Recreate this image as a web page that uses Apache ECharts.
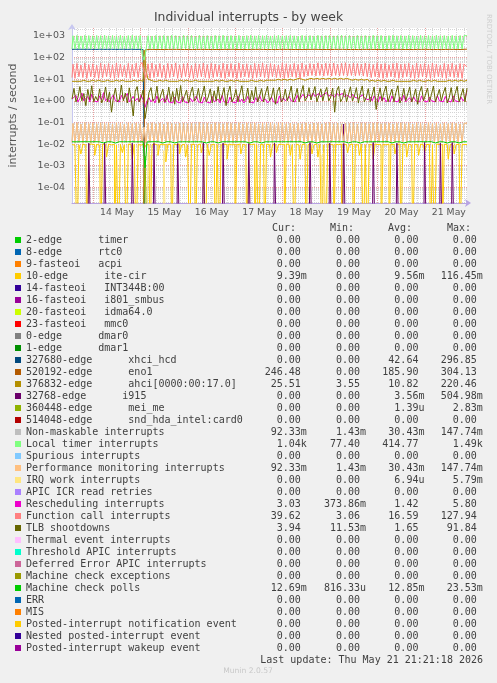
<!DOCTYPE html>
<html><head><meta charset="utf-8">
<script src="https://cdn.jsdelivr.net/npm/echarts@6/dist/echarts.min.js"></script>
<style>html,body{margin:0;padding:0;background:#f0f0f0;}#c{width:497px;height:683px;}</style>
</head><body><div id="c"></div><script>
// ---- time base: one sample per hour, 200 hours ending Thu May 21 21:21:18 ----
const startDay = 13 + (13 + 21/60 + 18/3600) / 24;
const endDay = startDay + 200 / 24;
const dayTicks = [14, 15, 16, 17, 18, 19, 20, 21];
const dayLabels = ['14 May', '15 May', '16 May', '17 May', '18 May', '19 May', '20 May', '21 May'];
const yTickValues = [1e-4, 1e-3, 1e-2, 1e-1, 1, 10, 100, 1000];
const yTickLabels = ['1e-04', '1e-03', '1e-02', '1e-01', '1e+00', '1e+01', '1e+02', '1e+03'];

// ---- series names, colours and legend statistics ----
const names = [
 '2-edge      timer','8-edge      rtc0','9-fasteoi   acpi','10-edge      ite-cir','14-fasteoi   INT344B:00',
 '16-fasteoi   i801_smbus','20-fasteoi   idma64.0','23-fasteoi   mmc0','0-edge      dmar0','1-edge      dmar1',
 '327680-edge      xhci_hcd','520192-edge      eno1','376832-edge      ahci[0000:00:17.0]','32768-edge      i915',
 '360448-edge      mei_me','514048-edge      snd_hda_intel:card0','Non-maskable interrupts','Local timer interrupts',
 'Spurious interrupts','Performance monitoring interrupts','IRQ work interrupts','APIC ICR read retries',
 'Rescheduling interrupts','Function call interrupts','TLB shootdowns','Thermal event interrupts',
 'Threshold APIC interrupts','Deferred Error APIC interrupts','Machine check exceptions','Machine check polls',
 'ERR','MIS','Posted-interrupt notification event','Nested posted-interrupt event','Posted-interrupt wakeup event'];
const colors = ['#00CC00','#0066B3','#FF8000','#FFCC00','#330099','#990099','#CCFF00','#FF0000','#808080','#008F00',
 '#00487D','#B35A00','#B38F00','#6B006B','#8FB300','#B30000','#BEBEBE','#80FF80','#80C9FF','#FFC080',
 '#FFE680','#AA80FF','#EE00CC','#FF8080','#666600','#FFBFFF','#00FFCC','#CC6699','#999900','#00CC00',
 '#0066B3','#FF8000','#FFCC00','#330099','#990099'];
const curStats = ['0.00','0.00','0.00','9.39m','0.00','0.00','0.00','0.00','0.00','0.00','0.00','246.48','25.51','0.00','0.00','0.00','92.33m','1.04k','0.00','92.33m','0.00','0.00','3.03','39.62','3.94','0.00','0.00','0.00','0.00','12.69m','0.00','0.00','0.00','0.00','0.00'];
const minStats = ['0.00','0.00','0.00','0.00','0.00','0.00','0.00','0.00','0.00','0.00','0.00','0.00','3.55','0.00','0.00','0.00','1.43m','77.40','0.00','1.43m','0.00','0.00','373.86m','3.06','11.53m','0.00','0.00','0.00','0.00','816.33u','0.00','0.00','0.00','0.00','0.00'];
const avgStats = ['0.00','0.00','0.00','9.56m','0.00','0.00','0.00','0.00','0.00','0.00','42.64','185.90','10.82','3.56m','1.39u','0.00','30.43m','414.77','0.00','30.43m','6.94u','0.00','1.42','16.59','1.65','0.00','0.00','0.00','0.00','12.85m','0.00','0.00','0.00','0.00','0.00'];
const maxStats = ['0.00','0.00','0.00','116.45m','0.00','0.00','0.00','0.00','0.00','0.00','296.85','304.13','220.46','504.98m','2.83m','0.00','147.74m','1.49k','0.00','147.74m','5.79m','0.00','5.80','127.94','91.84','0.00','0.00','0.00','0.00','23.53m','0.00','0.00','0.00','0.00','0.00'];

// ---- values, one per hour (index 0..200) ----
const iteCir = [
 .0095,.0090,.0100,0,.0092,.0035,.0098,.0090,0,.0095,
 .0100,.0092,.0030,.0096,.0090,0,.0098,.0094,.0025,.0100,
 .0092,.0096,0,.0090,0,.0098,.0040,.0094,0,.0100,
 .0093,.0020,.0097,0,.0095,.0090,.0100,.0060,.0092,.0096,
 0,.0094,.0099,.0091,.0030,.0097,.0093,.0095,.0015,.0100,
 .0092,0,.0096,.0094,.0099,.0035,.0091,.0097,.0025,.0093,
 0,.0098,.0095,0,.0092,.0100,.0040,.0094,0,.0097,
 .0030,.0093,.0099,0,.0095,0,.0091,.0098,.0094,.0020,
 .0100,.0092,.0096,0,.0093,.0099,.0035,.0095,.0091,0,
 .0097,.0094,.0100,0,.0092,0,.0096,.0093,0,.0098,
 .0095,.0025,.0091,.0099,.0040,.0094,.0097,.0092,0,.0100,
 .0093,.0030,.0096,0,.0098,.0091,.0020,.0095,.0099,0,
 .0094,.0097,.0035,.0092,.0100,.0025,.0096,0,.0093,0,
 .0098,.0095,.0091,0,.0097,.0094,.0100,0,.0092,.0096,
 .0040,.0093,.0099,0,.0095,.0091,.0030,.0098,0,.0094,
 0,.0097,.0092,.0020,.0100,.0095,.0093,0,.0096,.0091,
 .0099,0,.0094,.0097,.0035,.0092,.0100,0,.0095,.0093,
 .0025,.0098,.0091,0,.0096,.0094,.0030,.0099,.0092,.0040,
 .0095,.0097,0,.0093,0,.0100,.0096,.0092,0,.0098,
 .0094,.0020,.0097,.0091,.0035,.0095,.0099,0,.0093,.0096,
 .0094];
const xhciHcd = [
 243,241,244,242,245,240,243,242,244,241,
 242,244,240,243,245,241,242,244,243,240,
 244,242,241,245,243,240,244,242,241,243,
 245,242,240,244,243,241,235,0,0,0,
 0,0,0,0,0,0,0,0,0,0, 0,0,0,0,0,0,0,0,0,0,
 0,0,0,0,0,0,0,0,0,0, 0,0,0,0,0,0,0,0,0,0,
 0,0,0,0,0,0,0,0,0,0, 0,0,0,0,0,0,0,0,0,0,
 0,0,0,0,0,0,0,0,0,0, 0,0,0,0,0,0,0,0,0,0,
 0,0,0,0,0,0,0,0,0,0, 0,0,0,0,0,0,0,0,0,0,
 0,0,0,0,0,0,0,0,0,0, 0,0,0,0,0,0,0,0,0,0,
 0,0,0,0,0,0,0,0,0,0, 0,0,0,0,0,0,0,0,0,0,
 0,0,0,0,0,0,0,0,0,0, 0,0,0,0,0,0,0,0,0,0,
 0];
const eno1 = [
 0,0,0,0,0,0,0,0,0,0,
 0,0,0,0,0,0,0,0,0,0,
 0,0,0,0,0,0,0,0,0,0,
 0,0,0,0,0,0,0,228,240,238,
 236,241,239,237,242,238,240,236,239,241,
 237,240,238,242,236,239,241,237,240,238,
 242,236,239,240,237,241,238,240,236,239,
 241,237,240,238,242,236,239,241,237,240,
 238,242,236,239,240,237,241,238,240,236,
 239,241,237,240,238,242,236,239,241,237,
 240,238,242,236,239,240,237,241,238,240,
 236,239,241,237,240,238,242,236,239,241,
 237,240,238,242,236,239,240,237,241,238,
 240,236,239,241,237,240,238,242,236,239,
 241,237,240,238,242,236,239,240,237,241,
 238,240,236,239,241,237,240,238,242,236,
 239,241,237,240,238,242,236,239,240,237,
 241,238,240,236,239,241,237,240,238,242,
 236,239,241,237,240,238,242,236,239,240,
 237,241,238,240,236,239,241,237,240,244,
 246];
const ahci = [
 8,8,9,8,8,9,9,8,8,8,
 9,8,8,9,8,8,8,9,9,8,
 8,8,9,8,8,9,8,8,8,9,
 8,9,8,8,9,8,8,220,25,10,
 9,8,8,8,9,8,8,9,8,8,
 8,9,8,8,8,9,8,8,9,8,
 8,8,9,8,8,8,9,8,8,9,
 8,8,8,9,8,8,9,8,8,8,
 9,8,8,9,8,8,8,9,8,8,
 8,9,8,8,8,9,8,8,9,8,
 9,9,10,9,10,10,9,10,10,9,
 10,10,9,10,10,11,10,10,9,10,
 10,11,10,10,11,10,10,11,10,10,
 11,10,10,11,10,10,11,10,10,11,
 10,10,9,10,10,9,10,9,9,10,
 9,8,9,8,8,9,8,8,9,8,
 8,8,9,8,8,8,9,8,8,9,
 8,8,8,9,8,8,9,8,8,8,
 9,8,8,9,8,8,8,9,8,8,
 8,9,8,8,9,8,8,9,8,9,
 9];
const localTimer = [
 250,1030,248,1070,251,1010,249,1085,250,1050,
 248,1020,251,1065,250,1040,249,1090,250,1025,
 251,1060,248,1035,250,1075,249,1015,251,1050,
 250,1085,248,1030,251,1060,150,77,235,1040,
 246,1005,250,1075,248,1030,251,1060,249,1020,
 250,1085,248,1045,251,1010,249,1070,250,1035,
 248,1060,251,1000,250,1080,249,1025,250,1055,
 251,1015,248,1070,250,1040,249,1090,251,1020,
 250,1060,248,1030,251,1075,249,1005,250,1050,
 248,1085,251,1025,250,1060,249,1035,251,1070,
 250,1010,248,1055,251,1080,249,1020,250,1045,
 248,1065,251,1030,250,1000,249,1075,251,1040,
 250,1060,248,1015,251,1085,249,1030,250,1050,
 248,1070,251,1020,250,1045,249,1090,251,1035,
 250,1060,248,1005,251,1075,249,1030,250,1055,
 251,1020,248,1080,250,1040,249,1065,251,1010,
 250,1050,248,1085,251,1030,249,1060,250,1020,
 248,1075,251,1045,250,1005,249,1070,251,1035,
 250,1060,248,1025,251,1090,249,1040,250,1055,
 251,1015,248,1070,250,1030,249,1060,251,1045,
 1040];
const perfMon = [
 .012,.090,.011,.095,.012,.085,.011,.098,.012,.088,
 .011,.093,.012,.087,.011,.096,.012,.090,.011,.094,
 .012,.086,.011,.097,.012,.091,.011,.084,.012,.095,
 .011,.089,.012,.093,.011,.087,.012,.060,.011,.092,
 .012,.096,.011,.088,.012,.094,.011,.085,.012,.097,
 .011,.090,.012,.086,.011,.095,.012,.091,.011,.088,
 .012,.094,.011,.087,.012,.098,.011,.089,.012,.093,
 .011,.085,.012,.096,.011,.090,.012,.087,.011,.095,
 .012,.091,.011,.088,.012,.097,.011,.086,.012,.094,
 .011,.089,.012,.095,.011,.085,.012,.092,.011,.090,
 .012,.096,.011,.087,.012,.093,.011,.098,.012,.088,
 .011,.094,.012,.086,.011,.091,.012,.089,.011,.097,
 .012,.085,.011,.095,.012,.090,.011,.087,.012,.093,
 .011,.098,.012,.088,.011,.094,.012,.086,.011,.091,
 .012,.089,.011,.096,.012,.085,.011,.092,.012,.095,
 .011,.087,.012,.093,.011,.097,.012,.088,.011,.090,
 .012,.094,.011,.086,.012,.091,.011,.096,.012,.089,
 .011,.092,.012,.085,.011,.095,.012,.090,.011,.087,
 .012,.097,.011,.089,.012,.093,.011,.086,.012,.094,
 .011,.088,.012,.096,.011,.091,.012,.085,.011,.092,
 .092];
const rescheduling = [
 1.2,1.0,1.8,0.9,1.3,2.3,1.0,1.1,1.6,0.9,
 2.0,1.0,1.2,0.9,1.7,1.1,2.4,1.0,1.3,0.9,
 1.4,1.9,1.0,1.1,0.9,1.8,1.2,1.0,2.2,0.9,
 1.1,1.6,1.0,1.3,0.9,1.9,1.1,0.5,1.0,1.4,
 0.9,1.2,0.8,1.7,0.9,1.0,1.3,0.8,1.8,0.9,
 1.0,0.8,1.5,0.9,1.1,0.8,1.6,0.9,1.0,0.8,
 1.3,0.9,0.8,1.7,0.9,1.1,0.8,1.5,0.9,1.0,
 0.8,1.6,0.9,1.0,1.2,0.8,1.8,0.9,1.1,0.8,
 1.5,0.9,1.0,0.8,1.7,0.9,1.2,0.8,1.0,1.6,
 0.9,1.1,0.8,1.4,0.9,1.8,1.0,0.9,1.2,0.8,
 1.0,1.5,0.9,1.1,0.8,1.7,0.9,1.4,1.0,0.9,
 1.6,1.0,1.2,0.9,1.8,1.1,1.5,2.0,1.4,1.7,
 1.9,1.5,2.3,1.6,1.8,2.2,1.5,1.9,1.7,2.4,
 1.6,2.0,1.7,1.5,2.3,1.8,1.6,2.2,1.5,1.9,
 1.7,1.4,2.0,1.5,1.8,1.3,1.6,1.9,1.4,1.7,
 1.1,1.5,1.0,1.7,1.2,0.9,1.6,1.0,1.4,0.9,
 1.2,0.9,1.7,1.0,1.1,0.9,1.5,1.0,1.8,0.9,
 1.0,1.4,0.9,1.6,1.0,1.1,0.9,1.7,1.0,1.2,
 0.9,1.5,1.0,1.1,0.9,1.8,1.0,1.2,0.9,1.6,
 1.0,1.1,0.9,1.7,1.0,1.2,0.9,1.5,1.0,1.3,
 3.0];
const functionCall = [
 12,50,11,54,13,46,12,56,11,48,
 13,52,12,45,11,55,12,49,13,53,
 12,47,11,57,12,51,13,44,12,54,
 11,49,13,55,12,46,60,20,12,52,
 11,56,12,48,13,53,12,45,11,54,
 12,50,13,57,11,47,12,52,13,55,
 12,44,11,53,12,49,13,56,12,48,
 11,54,12,51,13,46,12,55,11,50,
 13,53,12,47,11,56,12,49,13,52,
 12,45,11,54,12,51,13,57,12,48,
 11,53,13,50,12,46,12,55,11,52,
 12,48,13,54,12,49,11,56,13,47,
 14,53,15,51,14,57,15,50,14,55,
 15,52,14,56,15,49,14,54,15,58,
 14,51,15,55,14,53,15,50,14,56,
 13,52,12,48,13,55,12,51,11,54,
 12,47,13,53,12,56,11,49,12,52,
 13,54,12,46,11,55,12,50,13,53,
 12,48,11,56,12,51,13,45,12,54,
 11,50,13,55,12,47,12,53,11,51,
 40];
const tlb = [
 1.2,3.8,0.9,1.4,4.6,1.0,2.2,0.6,3.4,1.1,
 5.0,0.9,1.6,1.0,3.6,0.8,1.3,4.4,0.9,2.6,
 0.3,1.5,3.9,0.9,1.2,5.4,1.0,2.3,0.8,4.0,
 1.1,0.2,2.8,4.6,0.9,1.4,3.2,0.15,0.6,2.4,
 4.1,1.0,1.3,4.8,0.8,1.9,3.5,0.9,1.2,4.3,
 0.9,2.7,0.7,3.9,1.0,5.1,0.9,1.6,3.2,0.8,
 2.2,4.4,1.0,1.3,3.8,0.9,2.0,4.9,0.9,1.5,
 3.6,0.8,2.9,1.0,4.6,1.0,1.8,4.1,0.6,2.4,
 4.8,0.9,1.4,3.4,0.9,2.1,5.0,1.0,1.3,3.9,
 0.8,3.0,1.1,4.5,0.9,1.7,3.7,0.9,2.3,4.7,
 1.0,1.5,4.0,0.7,2.8,4.3,0.9,1.2,3.5,1.0,
 1.9,4.8,0.9,1.6,3.8,0.9,2.4,5.1,1.0,1.4,
 4.1,1.1,2.2,4.6,0.9,1.8,3.6,1.0,2.5,4.2,
 1.0,1.5,3.9,0.3,2.9,4.7,0.9,1.3,3.4,0.9,
 2.0,4.5,1.0,1.7,4.1,0.8,2.3,4.9,0.9,1.4,
 3.7,0.9,1.9,4.4,0.4,1.5,4.0,1.0,2.6,4.8,
 0.9,1.8,3.5,0.9,2.4,5.0,0.8,1.3,3.8,1.0,
 2.1,4.3,0.9,1.6,3.6,0.7,2.5,4.6,1.0,1.2,
 3.9,0.9,2.0,4.8,0.9,1.7,3.4,1.0,2.3,4.2,
 0.8,1.4,4.1,0.9,2.2,4.7,0.9,1.8,3.7,0.9,
 3.9];
const mcPolls = [
 .0128,.0129,.0127,.0112,.0128,.0128,.0129,.0113,.0128,.0127,
 .0128,.0112,.0129,.0128,.0127,.0128,.0113,.0128,.0129,.0128,
 .0127,.0128,.0112,.0128,.0129,.0127,.0128,.0113,.0128,.0128,
 .0129,.0128,.0127,.0112,.0128,.0129,.0128,.0008,.0127,.0128,
 .0128,.0113,.0129,.0128,.0127,.0128,.0112,.0128,.0129,.0127,
 .0128,.0128,.0113,.0128,.0127,.0129,.0128,.0112,.0128,.0128,
 .0127,.0129,.0128,.0113,.0128,.0128,.0127,.0128,.0112,.0129,
 .0128,.0127,.0128,.0128,.0113,.0129,.0128,.0127,.0128,.0112,
 .0128,.0129,.0127,.0128,.0128,.0113,.0128,.0129,.0127,.0128,
 .0112,.0128,.0128,.0129,.0127,.0128,.0113,.0128,.0128,.0129,
 .0127,.0112,.0128,.0128,.0129,.0127,.0128,.0113,.0128,.0128,
 .0129,.0127,.0128,.0112,.0128,.0128,.0129,.0127,.0113,.0128,
 .0128,.0129,.0127,.0128,.0112,.0128,.0128,.0129,.0127,.0113,
 .0128,.0128,.0129,.0127,.0128,.0112,.0128,.0128,.0129,.0127,
 .0113,.0128,.0128,.0129,.0127,.0128,.0112,.0128,.0128,.0129,
 .0127,.0113,.0128,.0128,.0129,.0127,.0128,.0112,.0128,.0128,
 .0129,.0127,.0113,.0128,.0128,.0129,.0127,.0128,.0112,.0128,
 .0128,.0129,.0127,.0113,.0128,.0128,.0129,.0127,.0128,.0112,
 .0128,.0128,.0129,.0127,.0113,.0128,.0128,.0129,.0127,.0128,
 .0112,.0128,.0128,.0129,.0127,.0128,.0113,.0128,.0128,.0127,
 .0127];
// sparse series: [hour index, value]
const i915Points = [[0,0],[8,0],[9,0.011],[10,0],[16,0],[17,0.012],[18,0],[30,0],[31,0.011],[32,0],[41,0],[42,0.012],[43,0],
 [53,0],[54,0.011],[55,0],[66,0],[67,0.012],[68,0],[76,0],[77,0.011],[78,0],[89,0],[90,0.012],[91,0],[102,0],[103,0.011],[104,0],
 [120,0],[121,0.012],[122,0],[130,0],[131,0.011],[132,0],[137,0],[138,0.084],[139,0],[152,0],[153,0.012],[154,0],
 [164,0],[165,0.011],[166,0],[178,0],[179,0.012],[180,0],[186,0],[187,0.011],[188,0],[192,0],[193,0.012],[194,0],[200,0]];
const irqWorkPoints = [[0,0],[38,0],[39,0.004],[40,0.003],[41,0],[46,0],[47,0.005],[48,0],[126,0],[127,0.003],[128,0.004],[129,0],[200,0]];
const meiMePoints = [[0,0],[36,0],[37,0.0028],[38,0],[200,0]];

// ---- build ----
const toX = k => startDay + k / 24;
const floorZero = v => (v > 0 ? v : 1e-7); // zero is drawn at the floor of the log scale
const fromArray = arr => arr.map((v, k) => [toX(k), floorZero(v)]);
const fromPoints = pts => pts.map(p => [toX(p[0]), floorZero(p[1])]);

const seriesData = {};
seriesData[names[3]] = { data: fromArray(iteCir), step: 'middle' };
seriesData[names[10]] = { data: fromArray(xhciHcd) };
seriesData[names[11]] = { data: fromArray(eno1) };
seriesData[names[12]] = { data: fromArray(ahci), step: 'middle' };
seriesData[names[13]] = { data: fromPoints(i915Points), step: 'middle' };
seriesData[names[14]] = { data: fromPoints(meiMePoints) };
seriesData[names[16]] = { data: fromArray(perfMon), step: 'middle' };
seriesData[names[17]] = { data: fromArray(localTimer), step: 'middle' };
seriesData[names[19]] = { data: fromArray(perfMon), step: 'middle' };
seriesData[names[20]] = { data: fromPoints(irqWorkPoints), step: 'middle' };
seriesData[names[22]] = { data: fromArray(rescheduling) };
seriesData[names[23]] = { data: fromArray(functionCall), step: 'middle' };
seriesData[names[24]] = { data: fromArray(tlb) };
seriesData[names[29]] = { data: fromArray(mcPolls) };

const series = names.map((n, i) => {
  const d = seriesData[n] || { data: [] };
  return {
    name: n, type: 'line', data: d.data, step: d.step || false,
    showSymbol: false, symbol: 'none', clip: true, silent: true,
    color: colors[i], itemStyle: { color: colors[i] },
    lineStyle: { color: colors[i], width: 1 },
    emphasis: { disabled: true }, animation: false
  };
});

const pad = s => (/[a-z]$/i.test(s) ? s : s + ' ').padStart(7, ' ');
const mono = { fontFamily: 'DejaVu Sans Mono', fontSize: 10, color: '#404040', lineHeight: 12 };
const legendFormatter = name => {
  const i = names.indexOf(name);
  return '{n|' + name + '}{c|' + pad(curStats[i]) + '}{m|' + pad(minStats[i]) + '}{a|' + pad(avgStats[i]) + '}{x|' + pad(maxStats[i]) + '}';
};

const chart = echarts.init(document.getElementById('c'), null, { renderer: 'canvas' });
chart.setOption({
  animation: false,
  backgroundColor: '#f0f0f0',
  title: {
    text: 'Individual interrupts - by week', left: 'center', top: 12, padding: 0,
    textStyle: { fontFamily: 'DejaVu Sans', fontSize: 12.4, fontWeight: 'normal', color: '#444444' }
  },
  grid: { left: 67, right: 30, top: 28, bottom: 480, containLabel: false, show: true, backgroundColor: '#ffffff', borderWidth: 0 },
  xAxis: {
    type: 'value', min: startDay, max: endDay, splitNumber: 8, minInterval: 1, maxInterval: 1,
    axisLine: { show: true, onZero: false, lineStyle: { color: '#b8a4e4', width: 1 }, symbol: ['none', 'arrow'], symbolSize: [6, 6], symbolOffset: [0, 4] },
    axisTick: { show: false },
    axisLabel: {
      showMinLabel: false, showMaxLabel: false, margin: 5, align: 'left',
      formatter: v => { const i = dayTicks.indexOf(Math.round(v)); return (Math.abs(v - Math.round(v)) < 1e-6 && i >= 0) ? '{d|' + dayLabels[i] + '}' : ''; },
      rich: { d: { width: 48, align: 'center', fontFamily: 'DejaVu Sans', fontSize: 9.3, color: '#555555' } }
    },
    splitLine: { show: true, showMinLine: false, showMaxLine: false, lineStyle: { color: '#e8a0a0', type: 'dotted', width: 1 } },
    minorTick: { show: false, splitNumber: 6 },
    minorSplitLine: { show: true, lineStyle: { color: '#d4d4d4', type: 'dotted', width: 1 } }
  },
  yAxis: {
    type: 'log', logBase: 10, min: 1.88e-5, max: 2350, splitNumber: 8,
    name: 'interrupts / second', nameLocation: 'middle', nameGap: 53,
    nameTextStyle: { fontFamily: 'DejaVu Sans', fontSize: 11, color: '#555555' },
    axisLine: { show: true, lineStyle: { color: '#c8c8f0', width: 1 }, symbol: ['none', 'arrow'], symbolSize: [6, 6], symbolOffset: [0, 4] },
    axisTick: { show: false },
    axisLabel: {
      showMinLabel: false, showMaxLabel: false, margin: 7,
      fontFamily: 'DejaVu Sans', fontSize: 9.5, color: '#555555',
      formatter: v => { const i = yTickValues.findIndex(t => Math.abs(Math.log10(v) - Math.log10(t)) < 1e-6); return i >= 0 ? yTickLabels[i] : ''; }
    },
    splitLine: { show: true, showMinLine: false, showMaxLine: false, lineStyle: { color: '#e8a0a0', type: 'dotted', width: 1 } },
    minorTick: { show: false, splitNumber: 9 },
    minorSplitLine: { show: true, lineStyle: { color: '#d4d4d4', type: 'dotted', width: 1 } }
  },
  legend: {
    orient: 'vertical', left: 15, top: 234, padding: 0, itemWidth: 6, itemHeight: 6, itemGap: 0,
    icon: 'rect', selectedMode: false, data: names,
    textStyle: Object.assign({}, mono, {
      rich: {
        n: Object.assign({ width: 238.7 }, mono),
        c: Object.assign({ width: 59.3 }, mono),
        m: Object.assign({ width: 58.3 }, mono),
        a: Object.assign({ width: 58.4 }, mono),
        x: Object.assign({}, mono)
      }
    }),
    formatter: legendFormatter
  },
  graphic: [
    { type: 'text', x: 489, y: 14, rotation: -Math.PI / 2, silent: true,
      style: { text: 'RRDTOOL / TOBI OETIKER', fill: '#cfcfcf', fontFamily: 'DejaVu Sans', fontSize: 7, align: 'left', verticalAlign: 'middle' } },
    { type: 'text', x: 272, y: 228, silent: true, style: { text: 'Cur:', fill: '#404040', fontFamily: 'DejaVu Sans Mono', fontSize: 10, align: 'left', verticalAlign: 'middle' } },
    { type: 'text', x: 330, y: 228, silent: true, style: { text: 'Min:', fill: '#404040', fontFamily: 'DejaVu Sans Mono', fontSize: 10, align: 'left', verticalAlign: 'middle' } },
    { type: 'text', x: 388, y: 228, silent: true, style: { text: 'Avg:', fill: '#404040', fontFamily: 'DejaVu Sans Mono', fontSize: 10, align: 'left', verticalAlign: 'middle' } },
    { type: 'text', x: 447, y: 228, silent: true, style: { text: 'Max:', fill: '#404040', fontFamily: 'DejaVu Sans Mono', fontSize: 10, align: 'left', verticalAlign: 'middle' } },
    { type: 'text', x: 483, y: 660, silent: true, style: { text: 'Last update: Thu May 21 21:21:18 2026', fill: '#404040', fontFamily: 'DejaVu Sans Mono', fontSize: 10, align: 'right', verticalAlign: 'middle' } },
    { type: 'text', x: 248, y: 671, silent: true, style: { text: 'Munin 2.0.57', fill: '#c8c8c8', fontFamily: 'DejaVu Sans', fontSize: 7.6, align: 'center', verticalAlign: 'middle' } }
  ],
  series: series
});
</script></body></html>
